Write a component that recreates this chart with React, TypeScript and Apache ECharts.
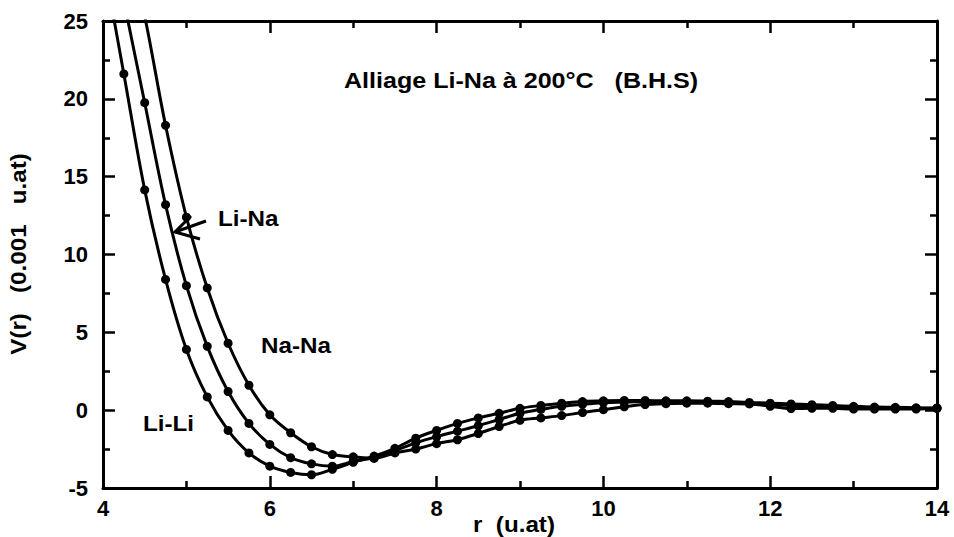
import React, { useEffect, useRef } from "react";
import * as echarts from "echarts";

const rValues = [
  4, 4.25, 4.5, 4.75, 5, 5.25, 5.5, 5.75, 6, 6.25, 6.5, 6.75, 7, 7.25, 7.5, 7.75,
  8, 8.25, 8.5, 8.75, 9, 9.25, 9.5, 9.75, 10, 10.25, 10.5, 10.75, 11, 11.25, 11.5,
  11.75, 12, 12.25, 12.5, 12.75, 13, 13.25, 13.5, 13.75, 14,
];

const liLi = [
  29, 21.6, 14.15, 8.4, 3.9, 0.85, -1.3, -2.75, -3.6, -4.0, -4.15, -3.8, -3.35, -2.95,
  -2.45, -1.8, -1.3, -0.85, -0.5, -0.2, 0.12, 0.3, 0.45, 0.55, 0.6, 0.62, 0.62, 0.6,
  0.6, 0.58, 0.55, 0.5, 0.45, 0.4, 0.35, 0.3, 0.25, 0.2, 0.18, 0.15, 0.14,
];

const liNa = [
  33, 26.3, 19.75, 13.2, 8.0, 4.1, 1.2, -0.85, -2.2, -3.05, -3.45, -3.6, -3.3, -3.05,
  -2.6, -2.1, -1.7, -1.35, -1.0, -0.6, -0.2, 0.05, 0.25, 0.38, 0.48, 0.52, 0.55, 0.55,
  0.55, 0.52, 0.5, 0.45, 0.38, 0.3, 0.25, 0.22, 0.18, 0.15, 0.13, 0.12, 0.12,
];

const naNa = [
  37, 31, 25.3, 18.3, 12.4, 7.85, 4.3, 1.6, -0.3, -1.45, -2.35, -2.85, -3.0, -3.1,
  -2.75, -2.5, -2.15, -1.9, -1.5, -1.05, -0.65, -0.5, -0.35, -0.15, 0.03, 0.22, 0.36,
  0.42, 0.45, 0.45, 0.42, 0.4, 0.25, 0.1, 0.12, 0.12, 0.07, 0.07, 0.07, 0.07, 0.12,
];

const seriesNames = ["Li-Li", "Li-Na", "Na-Na"];
const seriesValues = [liLi, liNa, naNa];

const titleText = "Alliage Li-Na à 200°C   (B.H.S)";
const yAxisTitle = "V(r)   (0.001   u.at)";
const xAxisTitle = "r  (u.at)";

const FONT = "'Liberation Sans', Arial, Helvetica, sans-serif";
const INK = "#000";
const FS = 22;

function axisBase(showLabels: boolean) {
  return {
    type: "value" as const,
    axisLine: { show: true, onZero: false, lineStyle: { color: INK, width: 3 } },
    axisTick: { show: true, inside: true, length: 12, lineStyle: { color: INK, width: 2.5 } },
    minorTick: { show: true, splitNumber: 2, length: 7, lineStyle: { color: INK, width: 2.5 } },
    splitLine: { show: false },
    minorSplitLine: { show: false },
    axisLabel: {
      show: showLabels,
      color: INK,
      fontFamily: FONT,
      fontWeight: "bold" as const,
      fontSize: FS,
    },
  };
}

export default function App() {
  const ref = useRef<HTMLDivElement>(null);

  useEffect(() => {
    if (!ref.current) return;
    const chart = echarts.init(ref.current, undefined, { renderer: "svg" });

    const textStyle = (t: string, fontSize = FS) => ({
      text: t,
      fill: INK,
      font: `bold ${fontSize}px ${FONT}`,
    });

    chart.setOption({
      animation: false,
      backgroundColor: "#fff",
      grid: { left: 103, right: 17, top: 21, bottom: 49, containLabel: false },
      xAxis: [
        {
          ...axisBase(true),
          position: "bottom",
          min: 4,
          max: 14,
          interval: 2,
          axisLabel: { ...axisBase(true).axisLabel, margin: 9 },
        },
        {
          ...axisBase(false),
          position: "top",
          min: 4,
          max: 14,
          interval: 2,
        },
      ],
      yAxis: [
        {
          ...axisBase(true),
          position: "left",
          min: -5,
          max: 25,
          interval: 5,
          axisLabel: { ...axisBase(true).axisLabel, margin: 15 },
        },
        {
          ...axisBase(false),
          position: "right",
          min: -5,
          max: 25,
          interval: 5,
        },
      ],
      series: seriesValues.map((vals, si) => ({
        name: seriesNames[si],
        type: "line",
        xAxisIndex: 0,
        yAxisIndex: 0,
        smooth: 0.35,
        clip: true,
        symbol: "circle",
        symbolSize: 9,
        showSymbol: true,
        itemStyle: { color: INK },
        lineStyle: { color: INK, width: 3 },
        data: rValues.map((r, i) => [r, vals[i]]),
      })),
      graphic: [
        {
          type: "text",
          x: 344,
          y: 70,
          scaleX: 1.14,
          style: textStyle(titleText),
        },
        {
          type: "text",
          x: 218,
          y: 207,
          scaleX: 1.1,
          style: textStyle("Li-Na"),
        },
        {
          type: "text",
          x: 261,
          y: 334,
          scaleX: 1.1,
          style: textStyle("Na-Na"),
        },
        {
          type: "text",
          x: 143,
          y: 412,
          scaleX: 1.1,
          style: textStyle("Li-Li"),
        },
        {
          type: "text",
          x: 473,
          y: 513,
          scaleX: 1.1,
          style: textStyle(xAxisTitle),
        },
        {
          type: "text",
          x: 18,
          y: 254,
          rotation: Math.PI / 2,
          scaleX: 1.1,
          style: { ...textStyle(yAxisTitle), align: "center", verticalAlign: "middle" },
        },
        {
          type: "polyline",
          shape: { points: [[206, 221], [175, 232]] },
          style: { stroke: INK, lineWidth: 3, fill: null },
        },
        {
          type: "polyline",
          shape: { points: [[191, 216], [175, 232], [200, 239]] },
          style: { stroke: INK, lineWidth: 3, fill: null },
        },
      ],
    });

    return () => chart.dispose();
  }, []);

  return (
    <div
      ref={ref}
      style={{ position: "absolute", left: 0, top: 0, width: 954, height: 537 }}
    />
  );
}
